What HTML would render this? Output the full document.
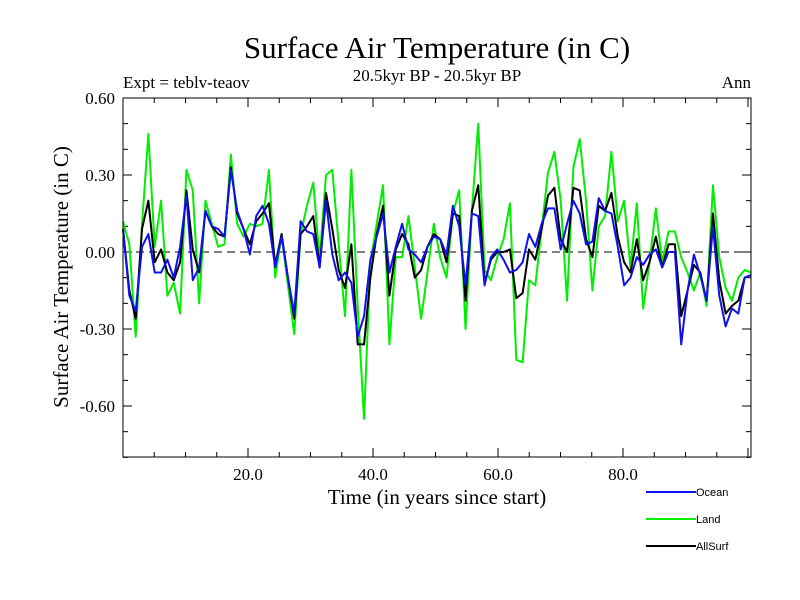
<!DOCTYPE html>
<html><head><meta charset="utf-8"><style>
body{margin:0;background:#fff;}
svg{display:block;font-family:"Liberation Serif",serif;}
</style></head><body>
<svg id="c" width="800" height="600" viewBox="0 0 800 600">
<rect width="800" height="600" fill="#fff"/>
<text x="437" y="58" font-size="31" text-anchor="middle">Surface Air Temperature (in C)</text>
<text x="437" y="81" font-size="17" text-anchor="middle">20.5kyr BP - 20.5kyr BP</text>
<text x="123" y="88" font-size="17">Expt = teblv-teaov</text>
<text x="751" y="88" font-size="17" text-anchor="end">Ann</text>
<text transform="translate(68,277) rotate(-90)" font-size="21" text-anchor="middle">Surface Air Temperature (in C)</text>
<text x="437" y="504" font-size="21" text-anchor="middle">Time (in years since start)</text>
<g id="axes"></g>
<g id="series"></g>
<rect x="123" y="98" width="628" height="359" fill="none" stroke="#000" stroke-width="1"/>
<g id="legend"></g>
</svg>
<script>
const years = Array.from({length:100},(_,i)=>i);
const ocean = [0.09,-0.17,-0.23,0.02,0.07,-0.08,-0.08,-0.03,-0.1,0.02,0.22,-0.11,-0.06,0.16,0.1,0.09,0.06,0.32,0.16,0.09,-0.01,0.14,0.18,0.11,-0.06,0.06,-0.1,-0.24,0.12,0.08,0.07,-0.06,0.2,-0.01,-0.11,-0.08,-0.12,-0.33,-0.25,-0.03,0.06,0.15,-0.08,0.02,0.11,0.01,-0.01,-0.04,0.02,0.06,0.05,-0.01,0.18,0.1,-0.13,0.15,0.14,-0.13,-0.02,0.01,-0.03,-0.08,-0.07,-0.04,0.07,0.02,0.11,0.17,0.17,0.01,0.11,0.2,0.15,0.03,0.04,0.21,0.16,0.15,0.02,-0.13,-0.1,-0.02,-0.05,-0.01,0.01,-0.06,0,0,-0.36,-0.15,-0.01,-0.09,-0.19,0.1,-0.17,-0.29,-0.22,-0.24,-0.1,-0.09];
const land = [0.12,0.03,-0.33,0.11,0.46,0.02,0.2,-0.17,-0.12,-0.24,0.32,0.24,-0.2,0.2,0.11,0.02,0.03,0.38,0.11,0.06,0.11,0.1,0.11,0.32,-0.1,0.07,-0.13,-0.32,0.07,0.18,0.27,-0.03,0.3,0.32,0.03,-0.25,0.32,-0.21,-0.65,-0.04,0.11,0.26,-0.36,-0.02,-0.02,0.14,-0.06,-0.26,-0.08,0.11,-0.02,-0.1,0.15,0.24,-0.3,0.16,0.5,-0.07,-0.11,-0.02,0.05,0.19,-0.42,-0.43,-0.11,-0.13,0.09,0.31,0.39,0.2,-0.19,0.33,0.44,0.2,-0.15,0.1,0.14,0.39,0.12,0.2,-0.06,0.19,-0.22,-0.04,0.17,-0.04,0.08,0.08,-0.02,-0.08,-0.15,-0.08,-0.21,0.26,-0.02,-0.14,-0.19,-0.1,-0.07,-0.08];
const allsurf = [0.09,-0.15,-0.26,0.09,0.2,-0.04,0.01,-0.08,-0.11,-0.04,0.24,0.01,-0.08,0.16,0.1,0.07,0.06,0.33,0.15,0.09,0.03,0.12,0.15,0.19,-0.05,0.07,-0.1,-0.26,0.07,0.1,0.14,-0.06,0.23,0.09,-0.07,-0.14,0.03,-0.36,-0.36,-0.1,0.07,0.18,-0.17,0.01,0.07,0.03,-0.1,-0.07,0.02,0.07,0.05,-0.04,0.15,0.14,-0.19,0.16,0.26,-0.12,-0.03,0,0,0.01,-0.18,-0.16,0.01,-0.03,0.09,0.22,0.25,0.05,0,0.25,0.24,0.05,-0.02,0.18,0.16,0.23,0.06,-0.04,-0.08,0.05,-0.11,-0.04,0.06,-0.06,0.03,0.03,-0.25,-0.15,-0.05,-0.08,-0.19,0.15,-0.11,-0.24,-0.21,-0.19,-0.1,-0.09];
const yTickLabels = ["0.60","0.30","0.00","-0.30","-0.60"];
const xTickLabels = ["20.0","40.0","60.0","80.0"];
const NS="http://www.w3.org/2000/svg";
const X0=123,X1=751,Y0=98,Y1=457;
const xs=t=>X0+(t-0)/(99-0)*(X1-X0);
const xa=t=>X0+t*6.25; // axis ticks scale (years)
const ys=v=>252-v*(77/0.3);
function mk(tag,attrs,parent){const e=document.createElementNS(NS,tag);for(const k in attrs)e.setAttribute(k,attrs[k]);parent.appendChild(e);return e;}
const ax=document.getElementById('axes');
// y ticks every 0.1
for(let k=-8;k<=6;k++){const v=k/10,y=ys(v);if(y<Y0-0.5||y>Y1+0.5)continue;const L=(k%3===0)?9:5;
 const t1=mk('line',{x1:X0,x2:X0+L,y1:y,y2:y,stroke:'#000'},ax);
 
 
 const t2=mk('line',{x1:X1-L,x2:X1,y1:y,y2:y,stroke:'#000'},ax);
 
 }
yTickLabels.forEach(s=>{const tx=mk('text',{x:115,y:ys(parseFloat(s))+6,'font-size':17,'text-anchor':'end'},ax);tx.textContent=s;
 
 });
for(let t=5;t<=100;t+=5){const x=xa(t);if(x>X1)continue;const L=(t%20===0)?9:5;
 const a=mk('line',{x1:x,x2:x,y1:Y1,y2:Y1-L,stroke:'#000'},ax);
 
 
 const b=mk('line',{x1:x,x2:x,y1:Y0,y2:Y0+L,stroke:'#000'},ax);
 
 }
xTickLabels.forEach(s=>{const tx=mk('text',{x:xa(parseFloat(s)),y:480,'font-size':17,'text-anchor':'middle'},ax);tx.textContent=s;
 
 });
const zl=mk('line',{x1:X0,x2:X1,y1:ys(0),y2:ys(0),stroke:'#000','stroke-dasharray':'8,5'},ax);


const sg=document.getElementById('series');
function draw(vals,color,name){const p=mk('polyline',{points:vals.map((v,i)=>xs(years[i])+','+ys(v)).join(' '),fill:'none',stroke:color,'stroke-width':2,'stroke-linejoin':'round'},sg);
 
 }
draw(land,'#00ee00','land-line');
draw(allsurf,'#000','allsurf-line');
draw(ocean,'#1010ee','ocean-line');
const lg=document.getElementById('legend');
[['Ocean','#1010ee',492],['Land','#00ee00',519],['AllSurf','#000',546]].forEach(([n,c,y])=>{
 const l=mk('line',{x1:646,x2:696,y1:y,y2:y,stroke:c,'stroke-width':2},lg);
 
 
 const t=mk('text',{x:696,y:y+4,'font-size':11,'font-family':'Liberation Sans, sans-serif'},lg);t.textContent=n;
 
 });
</script>
</body></html>
